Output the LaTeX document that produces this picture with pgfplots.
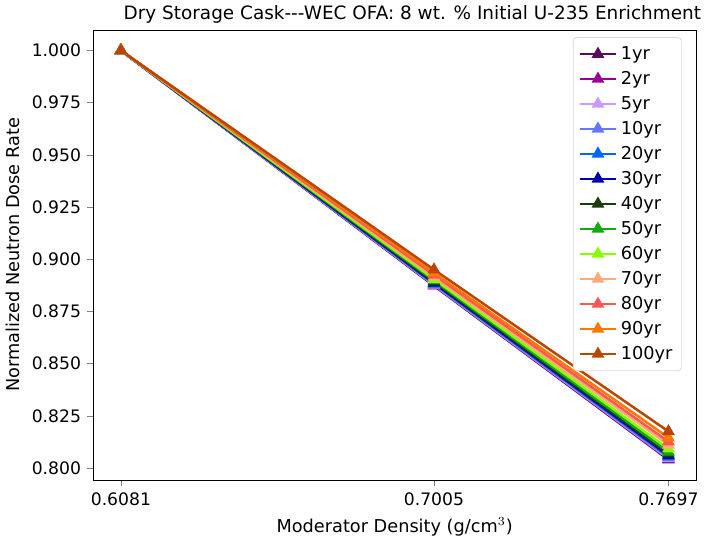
\documentclass[border=0pt]{standalone}
\usepackage{pgfplots}
\pgfplotsset{compat=1.18}
\usepackage{fontspec}
\setmainfont{DejaVu Sans}
\definecolor{c1}{HTML}{5A0A5A}
\definecolor{c2}{HTML}{990099}
\definecolor{c5}{HTML}{CC99FF}
\definecolor{c10}{HTML}{6677FF}
\definecolor{c20}{HTML}{0066FF}
\definecolor{c30}{HTML}{0000AA}
\definecolor{c40}{HTML}{183D0A}
\definecolor{c50}{HTML}{11AA11}
\definecolor{c60}{HTML}{88FF00}
\definecolor{c70}{HTML}{FFAA77}
\definecolor{c80}{HTML}{FF5555}
\definecolor{c90}{HTML}{FF7700}
\definecolor{c100}{HTML}{BB4400}
\begin{document}
\begin{tikzpicture}
\begin{axis}[
  scale only axis,
  width=340pt, height=254pt,
  xmin=0.6000, xmax=0.7778,
  ymin=0.7942, ymax=1.0098,
  xtick={0.6081,0.7005,0.7697},
  xticklabels={0.6081,0.7005,0.7697},
  ytick={0.800,0.825,0.850,0.875,0.900,0.925,0.950,0.975,1.000},
  yticklabel style={/pgf/number format/.cd,fixed,fixed zerofill,precision=3},
  /pgf/number format/assume math mode=true,
  tick align=outside,
  tick pos=left,
  major tick length=3.5pt,
  tick label style={font=\fontsize{9.7}{12}\selectfont},
  label style={font=\fontsize{10}{12}\selectfont},
  title style={font=\fontsize{10.4}{12.5}\selectfont, xshift=10pt, yshift=-6pt},
  title={Dry Storage Cask-{}-{}-WEC OFA: 8 wt. \% Initial U-235 Enrichment},
  xlabel={Moderator Density (g/cm$^3$)},
  ylabel={Normalized Neutron Dose Rate},
  legend style={at={(1,1)}, xshift=-8pt, yshift=-4pt, anchor=north east, draw=black!15, rounded corners=2pt, font=\fontsize{10}{12}\selectfont, row sep=1.2pt, inner sep=3pt},
  legend cell align=left,
  legend image code/.code={\draw[mark repeat=2,mark phase=2] plot coordinates {(0cm,0cm) (0.36cm,0cm) (0.72cm,0cm)};},
  every axis plot/.append style={line width=1.4pt, mark=triangle*, mark size=2.8pt},
]
\addplot[c1] coordinates {(0.6081,1.0) (0.7005,0.8873) (0.7697,0.8040)};
\addlegendentry{1yr}
\addplot[c2] coordinates {(0.6081,1.0) (0.7005,0.8875) (0.7697,0.8043)};
\addlegendentry{2yr}
\addplot[c5] coordinates {(0.6081,1.0) (0.7005,0.8877) (0.7697,0.8046)};
\addlegendentry{5yr}
\addplot[c10] coordinates {(0.6081,1.0) (0.7005,0.8880) (0.7697,0.8050)};
\addlegendentry{10yr}
\addplot[c20] coordinates {(0.6081,1.0) (0.7005,0.8883) (0.7697,0.8055)};
\addlegendentry{20yr}
\addplot[c30] coordinates {(0.6081,1.0) (0.7005,0.8887) (0.7697,0.8060)};
\addlegendentry{30yr}
\addplot[c40] coordinates {(0.6081,1.0) (0.7005,0.8892) (0.7697,0.8068)};
\addlegendentry{40yr}
\addplot[c50] coordinates {(0.6081,1.0) (0.7005,0.8898) (0.7697,0.8077)};
\addlegendentry{50yr}
\addplot[c60] coordinates {(0.6081,1.0) (0.7005,0.8905) (0.7697,0.8092)};
\addlegendentry{60yr}
\addplot[c70] coordinates {(0.6081,1.0) (0.7005,0.8915) (0.7697,0.8111)};
\addlegendentry{70yr}
\addplot[c80] coordinates {(0.6081,1.0) (0.7005,0.8925) (0.7697,0.8126)};
\addlegendentry{80yr}
\addplot[c90] coordinates {(0.6081,1.0) (0.7005,0.8935) (0.7697,0.8145)};
\addlegendentry{90yr}
\addplot[c100] coordinates {(0.6081,1.0) (0.7005,0.8950) (0.7697,0.8175)};
\addlegendentry{100yr}
\end{axis}
\end{tikzpicture}
\end{document}
